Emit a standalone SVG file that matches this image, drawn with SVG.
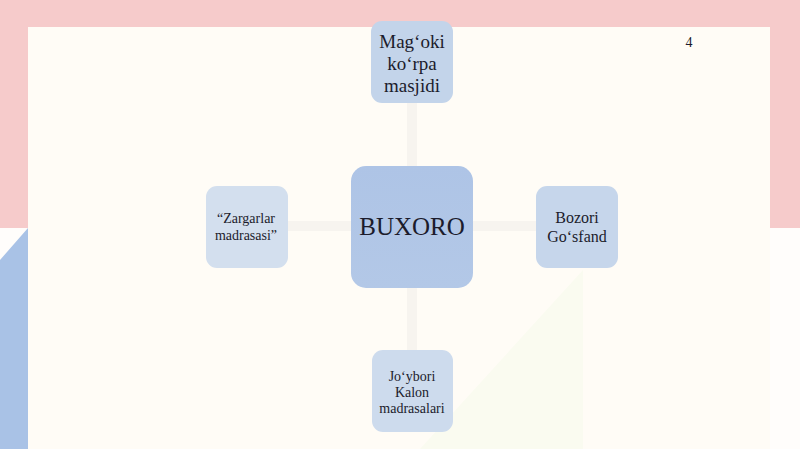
<svg xmlns="http://www.w3.org/2000/svg" width="800" height="449" viewBox="0 0 800 449">
<style>
.node{stroke:none}
.t{font-family:"Liberation Serif","Times New Roman",serif;fill:#1c1c2c;text-anchor:middle}
.c{stroke:#f7f4ef;stroke-width:10;fill:none}
</style>
<defs>
<linearGradient id="gc" x1="0" y1="0" x2="0" y2="1"><stop offset="0" stop-color="#aec4e6"/><stop offset="1" stop-color="#b3c8e7"/></linearGradient>
</defs>
<rect x="0" y="0" width="800" height="449" fill="#fffdfb"/>
<rect x="0" y="0" width="800" height="228" fill="#f6cbcb"/>
<polygon points="0,260 28,228 28,449 0,449" fill="#a9c2e6"/>
<rect x="28" y="27" width="742" height="422" fill="#fffcf6"/>
<polygon points="420,449 583,270 583,449" fill="#fafbf0"/>
<g id="connectors">
<line class="c" x1="412" y1="103" x2="412" y2="166"/>
<line class="c" x1="288" y1="226" x2="351" y2="226"/>
<line class="c" x1="473" y1="226" x2="536" y2="226"/>
<line class="c" x1="412" y1="288" x2="412" y2="350"/>
</g>
<g id="node-top">
<rect class="node" x="371" y="21" width="82" height="82" rx="11" fill="#c3d4ea"/>
<text class="t" font-size="19"><tspan x="412" y="48">Mag‘oki</tspan><tspan x="412" y="70">ko‘rpa</tspan><tspan x="412" y="92">masjidi</tspan></text>
</g>
<g id="node-center">
<rect class="node" x="351" y="166" width="122" height="122" rx="15" fill="url(#gc)"/>
<text class="t" x="412" y="235" font-size="25">BUXORO</text>
</g>
<g id="node-left">
<rect class="node" x="206" y="186" width="82" height="82" rx="11" fill="#d3dfee"/>
<text class="t" font-size="14"><tspan x="246" y="223">“Zargarlar</tspan><tspan x="246" y="240">madrasasi”</tspan></text>
</g>
<g id="node-right">
<rect class="node" x="536" y="186" width="82" height="82" rx="11" fill="#c6d6eb"/>
<text class="t" font-size="16"><tspan x="577" y="223">Bozori</tspan><tspan x="577" y="242">Go‘sfand</tspan></text>
</g>
<g id="node-bottom">
<rect class="node" x="372" y="350" width="81" height="82" rx="11" fill="#cddbed"/>
<text class="t" font-size="14"><tspan x="412" y="381">Jo‘ybori</tspan><tspan x="412" y="397">Kalon</tspan><tspan x="412" y="413">madrasalari</tspan></text>
</g>
<text class="t" x="689" y="47" font-size="14">4</text>
</svg>
